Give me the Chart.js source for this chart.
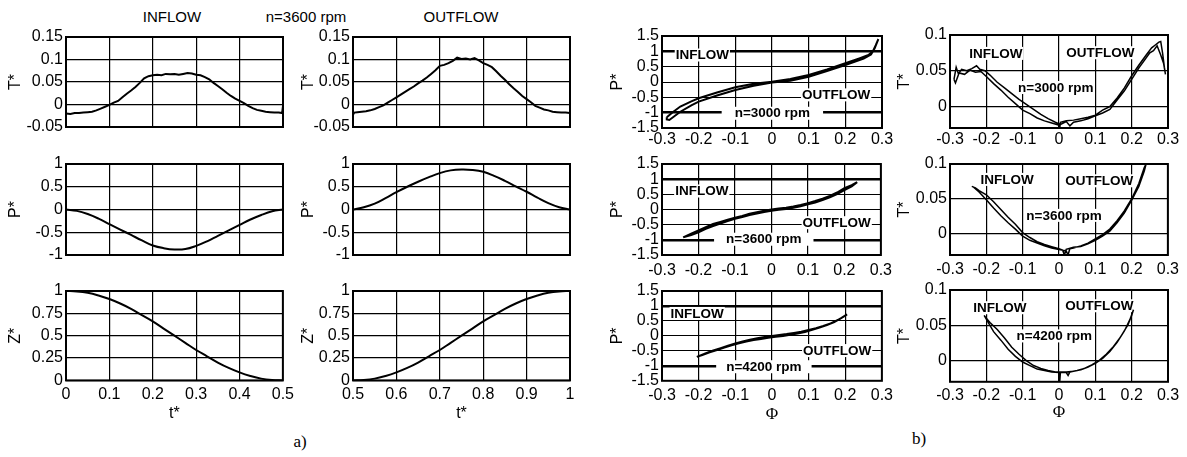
<!DOCTYPE html>
<html lang="en">
<head>
<meta charset="UTF-8">
<title>Inflow / outflow characteristics</title>
<script src="https://cdn.jsdelivr.net/npm/chart.js"></script>
<style>
    body {
        margin: 0;
        width: 1187px;
        height: 457px;
        background: #fff;
        position: relative;
        overflow: hidden;
        font-family: 'Liberation Sans', Arial, sans-serif;
    }
    canvas { position: absolute; }
    .lbl {
        position: absolute;
        font-size: 15px;
        line-height: 18px;
        white-space: nowrap;
        transform: translate(-50%, -50%);
    }
    .fig { font-family: 'Liberation Serif', 'Times New Roman', serif; font-size: 17px; }
</style>
</head>
<body>

<div class="lbl" style="left:172px; top:17px;">INFLOW</div>
<div class="lbl" style="left:306px; top:17px;">n=3600 rpm</div>
<div class="lbl" style="left:461px; top:17px;">OUTFLOW</div>
<div class="lbl fig" style="left:300px; top:442px;">a)</div>
<div class="lbl fig" style="left:919px; top:439px;">b)</div>

<script>
// ---- a) time histories, n=3600 rpm ----
const tT_in = [0,0.01,0.02,0.03,0.04,0.05,0.06,0.07,0.08,0.09,0.1,0.11,0.12,0.13,0.14,0.15,0.16,0.17,0.18,0.19,0.2,0.21,0.22,0.23,0.24,0.25,0.26,0.27,0.28,0.29,0.3,0.31,0.32,0.33,0.34,0.35,0.36,0.37,0.38,0.39,0.4,0.41,0.42,0.43,0.44,0.45,0.46,0.47,0.48,0.49,0.498,0.5];
const T_in = [-0.020,-0.021,-0.019,-0.019,-0.018,-0.017,-0.016,-0.013,-0.009,-0.005,-0.001,0.004,0.008,0.016,0.024,0.031,0.039,0.048,0.058,0.063,0.065,0.066,0.065,0.068,0.067,0.068,0.066,0.068,0.070,0.069,0.066,0.065,0.061,0.056,0.048,0.041,0.034,0.026,0.019,0.013,0.008,0.003,-0.003,-0.008,-0.012,-0.014,-0.016,-0.017,-0.018,-0.018,-0.019,-0.003];
const tT_out = [0.5,0.503,0.51,0.52,0.53,0.54,0.55,0.56,0.57,0.58,0.59,0.6,0.61,0.62,0.63,0.64,0.65,0.66,0.67,0.68,0.69,0.7,0.71,0.72,0.73,0.74,0.75,0.76,0.77,0.78,0.79,0.8,0.81,0.82,0.83,0.84,0.85,0.86,0.87,0.88,0.89,0.9,0.91,0.92,0.93,0.94,0.95,0.96,0.97,0.98,0.99,1];
const T_out = [-0.023,-0.018,-0.017,-0.016,-0.015,-0.013,-0.010,-0.006,-0.002,0.004,0.010,0.016,0.022,0.028,0.034,0.040,0.047,0.053,0.060,0.068,0.076,0.086,0.088,0.092,0.097,0.104,0.101,0.102,0.100,0.103,0.098,0.092,0.088,0.083,0.074,0.064,0.055,0.045,0.036,0.028,0.019,0.012,0.005,-0.003,-0.007,-0.011,-0.013,-0.016,-0.017,-0.018,-0.018,-0.019];

const t_in = [0,0.025,0.05,0.075,0.1,0.125,0.15,0.175,0.2,0.225,0.25,0.275,0.3,0.325,0.35,0.375,0.4,0.425,0.45,0.475,0.5];
const t_out = [0.5,0.525,0.55,0.575,0.6,0.625,0.65,0.675,0.7,0.725,0.75,0.775,0.8,0.825,0.85,0.875,0.9,0.925,0.95,0.975,1];
const P_in = [0,-0.03,-0.1,-0.2,-0.32,-0.44,-0.56,-0.68,-0.79,-0.85,-0.88,-0.87,-0.8,-0.7,-0.58,-0.46,-0.34,-0.22,-0.12,-0.04,0];
const P_out = [0,0.05,0.13,0.25,0.38,0.5,0.61,0.71,0.8,0.86,0.88,0.87,0.83,0.74,0.63,0.51,0.39,0.26,0.14,0.05,0];
const Z_in = [1,0.995,0.98,0.95,0.91,0.86,0.8,0.73,0.66,0.58,0.5,0.42,0.34,0.27,0.2,0.14,0.09,0.05,0.02,0.005,0];
const Z_out = [0,0.005,0.02,0.05,0.09,0.14,0.2,0.27,0.34,0.42,0.5,0.58,0.66,0.73,0.8,0.86,0.91,0.95,0.98,0.995,1];

// ---- b) loops against flow coefficient ----
const phiP3000 = [-0.287,-0.27,-0.25,-0.22,-0.2,-0.15,-0.1,-0.05,0,0.05,0.1,0.15,0.2,0.24,0.263,0.275,0.283,0.29,0.28,0.27,0.25,0.2,0.15,0.1,0.05,0,-0.05,-0.1,-0.15,-0.2,-0.22,-0.25,-0.27,-0.28,-0.287,-0.287];
const P3000 = [-1.15,-0.98,-0.8,-0.63,-0.53,-0.34,-0.17,-0.06,0.01,0.1,0.23,0.41,0.61,0.78,0.88,1.0,1.2,1.4,1.1,0.9,0.76,0.55,0.36,0.17,0.04,-0.02,-0.12,-0.26,-0.44,-0.64,-0.76,-0.97,-1.15,-1.24,-1.22,-1.15];
const phiP3600 = [-0.242,-0.22,-0.2,-0.18,-0.16,-0.14,-0.12,-0.1,-0.08,-0.06,-0.04,-0.02,0,0.02,0.04,0.06,0.08,0.1,0.12,0.14,0.16,0.18,0.2,0.22,0.235,0.22,0.2,0.18,0.16,0.14,0.12,0.1,0.08,0.06,0.04,0.02,0,-0.02,-0.04,-0.06,-0.08,-0.1,-0.12,-0.14,-0.16,-0.18,-0.2,-0.22,-0.242];
const P3600 = [-0.92,-0.8,-0.69,-0.58,-0.48,-0.41,-0.34,-0.27,-0.21,-0.14,-0.09,-0.04,0,0.03,0.06,0.1,0.15,0.21,0.28,0.36,0.45,0.56,0.7,0.8,0.9,0.76,0.64,0.51,0.4,0.31,0.23,0.17,0.11,0.06,0.02,-0.01,-0.04,-0.08,-0.13,-0.18,-0.25,-0.31,-0.38,-0.46,-0.55,-0.64,-0.75,-0.84,-0.92];
const phiP4200 = [-0.205,-0.18,-0.16,-0.14,-0.12,-0.1,-0.08,-0.06,-0.04,-0.02,0,0.02,0.04,0.06,0.08,0.1,0.12,0.14,0.16,0.18,0.2,0.205,0.19,0.17,0.15,0.13,0.11,0.09,0.07,0.05,0.03,0.01,-0.01,-0.03,-0.05,-0.07,-0.09,-0.11,-0.13,-0.15,-0.17,-0.19,-0.205];
const P4200 = [-0.7,-0.58,-0.49,-0.41,-0.33,-0.25,-0.19,-0.13,-0.08,-0.04,0,0.03,0.06,0.1,0.14,0.2,0.26,0.33,0.42,0.53,0.68,0.72,0.6,0.46,0.36,0.28,0.2,0.13,0.08,0.04,0,-0.03,-0.06,-0.1,-0.14,-0.19,-0.25,-0.31,-0.39,-0.47,-0.55,-0.64,-0.7];

const phiT3000 = [-0.289,-0.283,-0.277,-0.268,-0.254,-0.24,-0.227,-0.218,-0.204,-0.19,-0.17,-0.15,-0.13,-0.11,-0.09,-0.07,-0.05,-0.03,-0.01,0,0.002,0.004,0.02,0.04,0.06,0.08,0.1,0.12,0.14,0.16,0.18,0.2,0.22,0.24,0.255,0.265,0.275,0.28,0.285,0.29,0.293,
                  0.288,0.28,0.27,0.26,0.25,0.24,0.22,0.2,0.18,0.16,0.14,0.12,0.1,0.08,0.06,0.04,0.03,0.02,0,-0.02,-0.04,-0.06,-0.08,-0.1,-0.12,-0.14,-0.16,-0.18,-0.2,-0.215,-0.23,-0.245,-0.26,-0.275,-0.285,-0.289];
const T3000 = [0.038,0.055,0.046,0.052,0.05,0.053,0.057,0.052,0.05,0.044,0.034,0.026,0.018,0.01,0.003,-0.004,-0.011,-0.017,-0.022,-0.024,-0.03,-0.022,-0.02,-0.019,-0.017,-0.015,-0.012,-0.005,0,0.012,0.026,0.043,0.058,0.072,0.082,0.086,0.09,0.091,0.075,0.055,0.045,
               0.06,0.072,0.085,0.078,0.075,0.068,0.054,0.038,0.022,0.009,-0.004,-0.009,-0.013,-0.017,-0.02,-0.022,-0.027,-0.021,-0.026,-0.023,-0.02,-0.016,-0.01,-0.005,0.004,0.013,0.023,0.032,0.042,0.049,0.048,0.051,0.045,0.047,0.033,0.038];
const phiT3600 = [-0.24,-0.23,-0.22,-0.2,-0.18,-0.16,-0.14,-0.12,-0.1,-0.08,-0.06,-0.04,-0.02,0,0.01,0.015,0.02,0.04,0.06,0.08,0.1,0.12,0.14,0.16,0.18,0.2,0.22,0.235,0.24,
                  0.235,0.22,0.2,0.18,0.16,0.14,0.12,0.1,0.08,0.06,0.04,0.03,0.025,0.02,0,-0.02,-0.04,-0.06,-0.08,-0.1,-0.12,-0.14,-0.16,-0.18,-0.2,-0.22,-0.235,-0.24];
const T3600 = [0.068,0.066,0.062,0.056,0.046,0.035,0.024,0.014,0.002,-0.005,-0.011,-0.015,-0.018,-0.021,-0.023,-0.03,-0.022,-0.019,-0.018,-0.014,-0.009,-0.003,0.004,0.016,0.03,0.048,0.068,0.09,0.1,
               0.095,0.072,0.05,0.033,0.019,0.007,-0.001,-0.007,-0.013,-0.017,-0.02,-0.021,-0.03,-0.024,-0.022,-0.02,-0.017,-0.013,-0.009,-0.003,0.007,0.016,0.026,0.037,0.049,0.06,0.067,0.068];
const phiT4200 = [-0.206,-0.2,-0.19,-0.17,-0.15,-0.13,-0.11,-0.09,-0.07,-0.05,-0.03,-0.01,0,0.002,0.004,0.02,0.04,0.06,0.08,0.1,0.12,0.14,0.16,0.18,0.195,0.205,
                  0.2,0.19,0.17,0.15,0.13,0.11,0.09,0.07,0.05,0.03,0.025,0.02,0,-0.02,-0.04,-0.06,-0.08,-0.1,-0.12,-0.14,-0.16,-0.18,-0.195,-0.206];
const T4200 = [0.064,0.06,0.054,0.044,0.032,0.019,0.009,0,-0.007,-0.011,-0.014,-0.016,-0.016,-0.03,-0.016,-0.016,-0.015,-0.013,-0.009,-0.004,0.003,0.013,0.026,0.042,0.058,0.072,
               0.064,0.051,0.034,0.02,0.009,0,-0.006,-0.011,-0.014,-0.016,-0.021,-0.017,-0.017,-0.016,-0.014,-0.012,-0.007,-0.002,0.006,0.016,0.029,0.041,0.054,0.064];

// ---- tick values ----
const ticksT = [-0.05, 0, 0.05, 0.1, 0.15];
const ticksP = [-1, -0.5, 0, 0.5, 1];
const ticksZ = [0, 0.25, 0.5, 0.75, 1];
const ticksTimeIn = [0, 0.1, 0.2, 0.3, 0.4, 0.5];
const ticksTimeOut = [0.5, 0.6, 0.7, 0.8, 0.9, 1];
const ticksPhi = [-0.3, -0.2, -0.1, 0, 0.1, 0.2, 0.3];
const ticksPloop = [-1.5, -1, -0.5, 0, 0.5, 1, 1.5];
const ticksTloop = [0, 0.05, 0.1];

// in-plot labels (data coordinates)
const tagsP = [
    [{ text: 'INFLOW', x: -0.19, y: 0.88 }, { text: 'OUTFLOW', x: 0.175, y: -0.42 }, { text: 'n=3000 rpm', x: 0.001, y: -1.02, pad: 13 }],
    [{ text: 'INFLOW', x: -0.191, y: 0.61 }, { text: 'OUTFLOW', x: 0.179, y: -0.435 }, { text: 'n=3600 rpm', x: -0.021, y: -0.98, pad: 12 }],
    [{ text: 'INFLOW', x: -0.204, y: 0.75 }, { text: 'OUTFLOW', x: 0.178, y: -0.49 }, { text: 'n=4200 rpm', x: -0.022, y: -1.03, pad: 10 }]
];
const tagsT = [
    [{ text: 'INFLOW', x: -0.174, y: 0.0743 }, { text: 'OUTFLOW', x: 0.114, y: 0.0752 }, { text: 'n=3000 rpm', x: -0.009, y: 0.0266 }],
    [{ text: 'INFLOW', x: -0.143, y: 0.078 }, { text: 'OUTFLOW', x: 0.111, y: 0.076 }, { text: 'n=3600 rpm', x: 0.014, y: 0.0266 }],
    [{ text: 'INFLOW', x: -0.163, y: 0.0749 }, { text: 'OUTFLOW', x: 0.111, y: 0.0777 }, { text: 'n=4200 rpm', x: -0.013, y: 0.035 }]
];

Chart.defaults.font.family = "'Liberation Sans', Arial, sans-serif";
Chart.defaults.color = '#000';

function framePlugin(tags) {
    return {
        id: 'frame',
        beforeDatasetsDraw(chart) {
            const ctx = chart.ctx;
            ctx.save();
            ctx.font = "bold 13.5px 'Liberation Sans', Arial, sans-serif";
            ctx.textAlign = 'center';
            ctx.textBaseline = 'middle';
            tags.forEach(t => {
                const x = chart.scales.x.getPixelForValue(t.x);
                const y = chart.scales.y.getPixelForValue(t.y);
                const w = ctx.measureText(t.text).width + 2 * (t.pad || 1);
                ctx.fillStyle = '#fff';
                ctx.fillRect(x - w / 2, y - 6.5, w, 13);
                ctx.fillStyle = '#000';
                ctx.fillText(t.text, x, y + 0.5);
            });
            ctx.restore();
        },
        afterDatasetsDraw(chart) {
            const a = chart.chartArea, ctx = chart.ctx;
            ctx.save();
            ctx.strokeStyle = '#000';
            ctx.lineWidth = 2;
            ctx.strokeRect(a.left, a.top, a.right - a.left, a.bottom - a.top);
            ctx.restore();
        }
    };
}

function panel(p) {
    const yw = 60, tp = 16, rp = 16;
    const [L, T, R, B] = p.box;
    let xh = 14;
    if (p.xTitle) xh = p.xTitle.y - B + p.xTitle.size * 0.6;
    else if (p.xPad !== undefined) xh = 32;

    const c = document.createElement('canvas');
    c.width = yw + R - L + rp;
    c.height = tp + B - T + xh;
    c.style.left = (L - yw) + 'px';
    c.style.top = (T - tp) + 'px';
    c.style.width = c.width + 'px';
    c.style.height = c.height + 'px';
    document.body.appendChild(c);

    const grid = { color: '#000', lineWidth: 1.2, drawTicks: false };
    new Chart(c, {
        type: 'scatter',
        data: {
            datasets: p.series.map(s => ({
                data: s[0].map((x, i) => ({ x: x, y: s[1][i] })),
                showLine: true,
                borderColor: '#000',
                borderWidth: p.lw || 2,
                pointRadius: 0,
                tension: p.tension || 0,
                fill: false
            }))
        },
        options: {
            responsive: false,
            animation: false,
            events: [],
            layout: { padding: { left: 0, top: tp, right: rp, bottom: 0 } },
            plugins: { legend: { display: false }, tooltip: { enabled: false } },
            scales: {
                x: {
                    type: 'linear', min: p.x[0], max: p.x[1],
                    afterBuildTicks: s => { s.ticks = p.xTicks.map(v => ({ value: v })); },
                    afterFit: s => { s.height = xh; },
                    ticks: { display: p.xPad !== undefined, padding: p.xPad || 0, autoSkip: false, maxRotation: 0,
                             font: { size: 16 }, callback: v => String(v) },
                    grid: grid,
                    border: { display: false },
                    title: p.xTitle ? { display: true, text: p.xTitle.text, padding: 0,
                             font: { size: p.xTitle.size, family: p.xTitle.family } } : { display: false }
                },
                y: {
                    type: 'linear', min: p.y[0], max: p.y[1],
                    afterBuildTicks: s => { s.ticks = p.yTicks.map(v => ({ value: v })); },
                    afterFit: s => { s.width = yw; },
                    ticks: { padding: 3, autoSkip: false, font: { size: 16 }, callback: v => String(v) },
                    grid: Object.assign({}, grid, p.thick ? { lineWidth: ctx => Math.abs(ctx.tick.value) === 1 ? 2.5 : 1 } : {}),
                    border: { display: false },
                    title: { display: true, text: p.yTitle, font: { size: 16 },
                             padding: { top: p.yTitleX - (L - yw) - 9.6, bottom: 0 } }
                }
            }
        },
        plugins: [framePlugin(p.tags || [])]
    });
}

const tTitle = { text: 't*', y: 414, size: 16 };
const phiTitle = (y) => ({ text: 'Φ', y: y, size: 17, family: "'Liberation Serif', 'Times New Roman', serif" });

// column 1: inflow half-period
panel({ box: [66, 37, 283, 127], x: [0, 0.5], xTicks: ticksTimeIn, y: [-0.05, 0.15], yTicks: ticksT, yTitle: 'T*', yTitleX: 16, series: [[tT_in, T_in]] });
panel({ box: [66, 164, 283, 255], x: [0, 0.5], xTicks: ticksTimeIn, y: [-1, 1], yTicks: ticksP, yTitle: 'P*', yTitleX: 16, tension: 0.4, series: [[t_in, P_in]] });
panel({ box: [66, 291, 283, 381], x: [0, 0.5], xTicks: ticksTimeIn, y: [0, 1], yTicks: ticksZ, yTitle: 'Z*', yTitleX: 16, tension: 0.4, xPad: 5, xTitle: tTitle, series: [[t_in, Z_in]] });

// column 2: outflow half-period
panel({ box: [353, 37, 570, 127], x: [0.5, 1], xTicks: ticksTimeOut, y: [-0.05, 0.15], yTicks: ticksT, yTitle: 'T*', yTitleX: 309, series: [[tT_out, T_out]] });
panel({ box: [353, 164, 570, 255], x: [0.5, 1], xTicks: ticksTimeOut, y: [-1, 1], yTicks: ticksP, yTitle: 'P*', yTitleX: 309, tension: 0.4, series: [[t_out, P_out]] });
panel({ box: [353, 291, 570, 381], x: [0.5, 1], xTicks: ticksTimeOut, y: [0, 1], yTicks: ticksZ, yTitle: 'Z*', yTitleX: 309, tension: 0.4, xPad: 5, xTitle: tTitle, series: [[t_out, Z_out]] });

// column 3: P* loops
panel({ box: [662, 36, 882, 128], x: [-0.3, 0.3], xTicks: ticksPhi, y: [-1.5, 1.5], yTicks: ticksPloop, yTitle: 'P*', yTitleX: 617.5, thick: true, xPad: 2, tags: tagsP[0], series: [[phiP3000, P3000]] });
panel({ box: [662, 164, 882, 255], x: [-0.3, 0.3], xTicks: ticksPhi, y: [-1.5, 1.5], yTicks: ticksPloop, yTitle: 'P*', yTitleX: 617.5, thick: true, xPad: 6, tags: tagsP[1], series: [[phiP3600, P3600]] });
panel({ box: [662, 291, 882, 381], x: [-0.3, 0.3], xTicks: ticksPhi, y: [-1.5, 1.5], yTicks: ticksPloop, yTitle: 'P*', yTitleX: 617.5, thick: true, xPad: 5, xTitle: phiTitle(415), tags: tagsP[2], series: [[phiP4200, P4200]] });

// column 4: T* loops
panel({ box: [950, 35, 1168, 128], x: [-0.3, 0.3], xTicks: ticksPhi, y: [-0.03, 0.1], yTicks: ticksTloop, yTitle: 'T*', yTitleX: 905, lw: 1.5, xPad: 2, tags: tagsT[0], series: [[phiT3000, T3000]] });
panel({ box: [950, 164, 1168, 255], x: [-0.3, 0.3], xTicks: ticksPhi, y: [-0.03, 0.1], yTicks: ticksTloop, yTitle: 'T*', yTitleX: 905, lw: 1.5, xPad: 5, tags: tagsT[1], series: [[phiT3600, T3600]] });
panel({ box: [950, 290, 1168, 382], x: [-0.3, 0.3], xTicks: ticksPhi, y: [-0.03, 0.1], yTicks: ticksTloop, yTitle: 'T*', yTitleX: 905, lw: 1.5, xPad: 4.5, xTitle: phiTitle(413), tags: tagsT[2], series: [[phiT4200, T4200]] });
</script>

</body>
</html>
